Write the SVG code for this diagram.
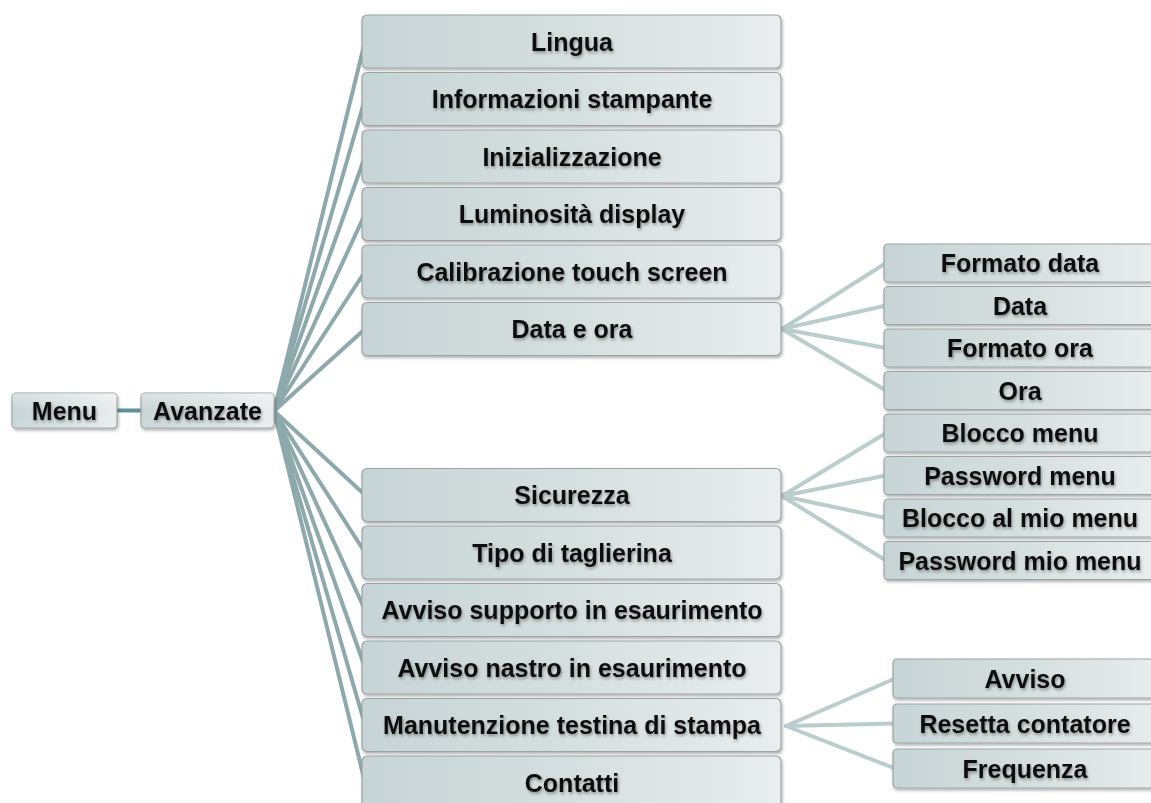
<svg xmlns="http://www.w3.org/2000/svg" width="1151" height="803" viewBox="0 0 1151 803">
<defs>
<linearGradient id="boxGrad" x1="0" y1="0" x2="1" y2="0">
<stop offset="0" stop-color="#c7d4d6"/>
<stop offset="0.5" stop-color="#d6dfdf"/>
<stop offset="1" stop-color="#e9eded"/>
</linearGradient>
<linearGradient id="shine" x1="0" y1="0" x2="0" y2="1">
<stop offset="0" stop-color="#ffffff" stop-opacity="0.35"/>
<stop offset="0.5" stop-color="#ffffff" stop-opacity="0"/>
<stop offset="1" stop-color="#ffffff" stop-opacity="0.1"/>
</linearGradient>
<filter id="boxShadow" x="-5%" y="-20%" width="112%" height="150%">
<feDropShadow dx="1" dy="2" stdDeviation="1.5" flood-color="#000" flood-opacity="0.3"/>
</filter>
<filter id="textGlow" x="-5%" y="-30%" width="110%" height="160%">
<feGaussianBlur in="SourceAlpha" stdDeviation="1.6" result="b"/>
<feOffset in="b" dx="1" dy="1.5" result="o"/>
<feFlood flood-color="#000" flood-opacity="0.35"/>
<feComposite in2="o" operator="in" result="s"/>
<feMerge><feMergeNode in="s"/><feMergeNode in="SourceGraphic"/></feMerge>
</filter>
</defs>
<style>
.box{fill:url(#boxGrad);stroke:#9aa4a5;stroke-width:1.2;filter:url(#boxShadow)}
.shine{fill:url(#shine);stroke:none}
.lbl{font-family:"Liberation Sans",Arial,sans-serif;font-weight:bold;font-size:25px;fill:#111;text-anchor:middle;filter:url(#textGlow)}
.main{stroke:#8ea9ac;stroke-width:4;fill:none;stroke-linecap:round}
.sub{stroke:#b9cdcd;stroke-width:4;fill:none;stroke-linecap:round}
.root{stroke:#5f9197;stroke-width:4;fill:none}
</style>
<rect width="1151" height="803" fill="#ffffff"/>
<g id="connectors">
<line class="root" x1="117" y1="410.5" x2="141" y2="410.5"/>
<line class="main" x1="274" y1="411" x2="365" y2="41.5"/>
<line class="main" x1="274" y1="411" x2="365" y2="99"/>
<line class="main" x1="274" y1="411" x2="365" y2="156.5"/>
<line class="main" x1="274" y1="411" x2="365" y2="214"/>
<line class="main" x1="274" y1="411" x2="365" y2="271.5"/>
<line class="main" x1="274" y1="411" x2="365" y2="329"/>
<line class="main" x1="274" y1="411" x2="365" y2="495"/>
<line class="main" x1="274" y1="411" x2="365" y2="552.5"/>
<line class="main" x1="274" y1="411" x2="365" y2="610"/>
<line class="main" x1="274" y1="411" x2="365" y2="667.5"/>
<line class="main" x1="274" y1="411" x2="365" y2="725"/>
<line class="main" x1="274" y1="411" x2="365" y2="782.5"/>
<line class="sub" x1="782" y1="329" x2="886" y2="263"/>
<line class="sub" x1="782" y1="329" x2="886" y2="305.5"/>
<line class="sub" x1="782" y1="329" x2="886" y2="348"/>
<line class="sub" x1="782" y1="329" x2="886" y2="390.5"/>
<line class="sub" x1="782" y1="496" x2="886" y2="433"/>
<line class="sub" x1="782" y1="496" x2="886" y2="475.5"/>
<line class="sub" x1="782" y1="496" x2="886" y2="518"/>
<line class="sub" x1="782" y1="496" x2="886" y2="560.5"/>
<line class="sub" x1="786" y1="726" x2="895" y2="678.5"/>
<line class="sub" x1="786" y1="726" x2="895" y2="723.5"/>
<line class="sub" x1="786" y1="726" x2="895" y2="768.5"/>
</g>
<g id="menu"><rect class="box" x="12" y="393" width="105" height="35" rx="4"/><rect class="shine" x="12" y="393" width="105" height="35" rx="4"/><text class="lbl" x="64.5" y="419.5">Menu</text></g>
<g id="avanzate"><rect class="box" x="141" y="393" width="133" height="35" rx="4"/><rect class="shine" x="141" y="393" width="133" height="35" rx="4"/><text class="lbl" x="207.5" y="419.5">Avanzate</text></g>
<g id="lingua"><rect class="box" x="362" y="15" width="419" height="53" rx="5"/><text class="lbl" x="572" y="50.5">Lingua</text></g>
<g id="informazioni"><rect class="box" x="362" y="72.5" width="419" height="53" rx="5"/><text class="lbl" x="572" y="108">Informazioni stampante</text></g>
<g id="inizializzazione"><rect class="box" x="362" y="130" width="419" height="53" rx="5"/><text class="lbl" x="572" y="165.5">Inizializzazione</text></g>
<g id="luminosita"><rect class="box" x="362" y="187.5" width="419" height="53" rx="5"/><text class="lbl" x="572" y="223">Luminosità display</text></g>
<g id="calibrazione"><rect class="box" x="362" y="245" width="419" height="53" rx="5"/><text class="lbl" x="572" y="280.5">Calibrazione touch screen</text></g>
<g id="dataora"><rect class="box" x="362" y="302.5" width="419" height="53" rx="5"/><text class="lbl" x="572" y="338">Data e ora</text></g>
<g id="sicurezza"><rect class="box" x="362" y="468.5" width="419" height="53" rx="5"/><text class="lbl" x="572" y="504">Sicurezza</text></g>
<g id="taglierina"><rect class="box" x="362" y="526" width="419" height="53" rx="5"/><text class="lbl" x="572" y="561.5">Tipo di taglierina</text></g>
<g id="supporto"><rect class="box" x="362" y="583.5" width="419" height="53" rx="5"/><text class="lbl" x="572" y="619">Avviso supporto in esaurimento</text></g>
<g id="nastro"><rect class="box" x="362" y="641" width="419" height="53" rx="5"/><text class="lbl" x="572" y="676.5">Avviso nastro in esaurimento</text></g>
<g id="manutenzione"><rect class="box" x="362" y="698.5" width="419" height="53" rx="5"/><text class="lbl" x="572" y="734">Manutenzione testina di stampa</text></g>
<g id="contatti"><rect class="box" x="362" y="756" width="419" height="53" rx="5"/><text class="lbl" x="572" y="791.5">Contatti</text></g>
<g id="formatodata"><rect class="box" x="884" y="244" width="274" height="38" rx="4"/><text class="lbl" x="1020" y="272">Formato data</text></g>
<g id="data"><rect class="box" x="884" y="286.5" width="274" height="38" rx="4"/><text class="lbl" x="1020" y="314.5">Data</text></g>
<g id="formatoora"><rect class="box" x="884" y="329" width="274" height="38" rx="4"/><text class="lbl" x="1020" y="357">Formato ora</text></g>
<g id="ora"><rect class="box" x="884" y="371.5" width="274" height="38" rx="4"/><text class="lbl" x="1020" y="399.5">Ora</text></g>
<g id="bloccomenu"><rect class="box" x="884" y="414" width="274" height="38" rx="4"/><text class="lbl" x="1020" y="442">Blocco menu</text></g>
<g id="passwordmenu"><rect class="box" x="884" y="456.5" width="274" height="38" rx="4"/><text class="lbl" x="1020" y="484.5">Password menu</text></g>
<g id="bloccomiomenu"><rect class="box" x="884" y="499" width="274" height="38" rx="4"/><text class="lbl" x="1020" y="527">Blocco al mio menu</text></g>
<g id="passwordmiomenu"><rect class="box" x="884" y="541.5" width="274" height="38" rx="4"/><text class="lbl" x="1020" y="569.5">Password mio menu</text></g>
<g id="avviso"><rect class="box" x="893" y="659" width="274" height="39" rx="4"/><text class="lbl" x="1025" y="687.5">Avviso</text></g>
<g id="resetta"><rect class="box" x="893" y="704" width="274" height="39" rx="4"/><text class="lbl" x="1025" y="732.5">Resetta contatore</text></g>
<g id="frequenza"><rect class="box" x="893" y="749" width="274" height="39" rx="4"/><text class="lbl" x="1025" y="777.5">Frequenza</text></g>
</svg>
